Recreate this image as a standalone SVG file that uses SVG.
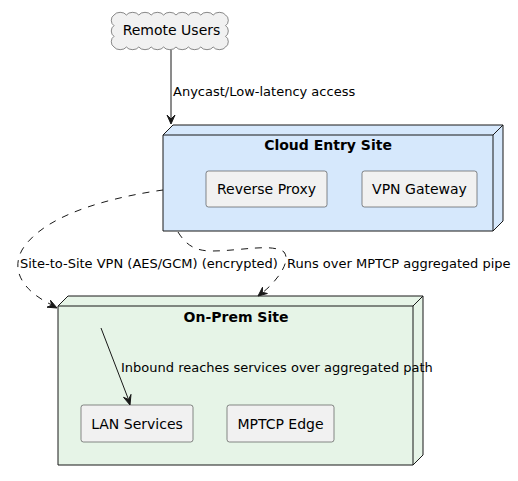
<svg xmlns="http://www.w3.org/2000/svg" width="518" height="481" viewBox="0 0 518 481">
<style>
.t{font-family:"DejaVu Sans",sans-serif;fill:#000}
.lbl{font-size:13px}
.cmp{font-size:14px;text-anchor:middle}
.ttl{font-size:14px;font-weight:bold;text-anchor:middle}
.comp rect{fill:#F1F1F1;stroke:#181818;stroke-width:0.5}
.node{stroke:#181818;stroke-width:1}
.e{fill:none;stroke:#181818;stroke-width:1}
.d{stroke-dasharray:7,7}
.ah{fill:#181818;stroke:#181818;stroke-width:1}
</style>
<rect width="518" height="481" fill="#FFFFFF"/>
<g id="remote-users">
<path d="M114,15 a7,5 0 0 1 12.4,0 a7,5 0 0 1 12.4,0 a7,5 0 0 1 12.4,0 a7,5 0 0 1 12.4,0 a7,5 0 0 1 12.4,0 a7,5 0 0 1 12.4,0 a7,5 0 0 1 12.4,0 a7,5 0 0 1 12.4,0 a7,5 0 0 1 12.4,0 a5,6 0 0 1 0,10.67 a5,6 0 0 1 0,10.67 a5,6 0 0 1 0,10.66 a7,5 0 0 1 -12.4,0 a7,5 0 0 1 -12.4,0 a7,5 0 0 1 -12.4,0 a7,5 0 0 1 -12.4,0 a7,5 0 0 1 -12.4,0 a7,5 0 0 1 -12.4,0 a7,5 0 0 1 -12.4,0 a7,5 0 0 1 -12.4,0 a7,5 0 0 1 -12.4,0 a5,6 0 0 1 0,-10.67 a5,6 0 0 1 0,-10.67 a5,6 0 0 1 0,-10.66 Z" fill="#F1F1F1" stroke="#181818" stroke-width="0.5"/>
<text class="t cmp" x="171.5" y="35">Remote Users</text>
</g>
<g id="cloud-entry-site">
<path class="node" d="M163,135 L173,125 L503,125 L503,221 L493,231 L163,231 Z" fill="#D6E8FC"/>
<path class="node" d="M163,135 L493,135 L503,125 M493,135 L493,231" fill="none"/>
<text class="t ttl" x="328" y="150">Cloud Entry Site</text>
</g>
<g id="reverse-proxy" class="comp">
<rect x="206" y="171" width="121" height="36" rx="2.5"/>
<text class="t cmp" x="266.5" y="194">Reverse Proxy</text>
</g>
<g id="vpn-gateway" class="comp">
<rect x="362" y="171" width="115" height="36" rx="2.5"/>
<text class="t cmp" x="419.5" y="194">VPN Gateway</text>
</g>
<g id="on-prem-site">
<path class="node" d="M58,306 L68,296 L423,296 L423,455 L413,465 L58,465 Z" fill="#E6F4E7"/>
<path class="node" d="M58,306 L413,306 L423,296 M413,306 L413,465" fill="none"/>
<text class="t ttl" x="236" y="322">On-Prem Site</text>
</g>
<g id="lan-services" class="comp">
<rect x="81" y="405" width="112" height="37" rx="2.5"/>
<text class="t cmp" x="137" y="428.5">LAN Services</text>
</g>
<g id="mptcp-edge" class="comp">
<rect x="227" y="405" width="107" height="37" rx="2.5"/>
<text class="t cmp" x="280.5" y="428.5">MPTCP Edge</text>
</g>
<g id="connectors">
<path class="e" d="M171,50 L171,118"/>
<polygon class="ah" points="171,124 167,115 171,119 175,115"/>
<text class="t lbl" x="173" y="96">Anycast/Low-latency access</text>

<path class="e d" d="M163,190 C120,196 45,212 22,250 C10,272 25,292 52,305"/>
<polygon class="ah" points="57,308 50.5,300.3 51.6,305.2 47,307.2"/>
<text class="t lbl" x="20" y="268">Site-to-Site VPN (AES/GCM) (encrypted)</text>

<path class="e d" d="M178,232 C186,245 195,251 212,251 C240,251 272,243 284,252 C292,262 275,283 262,293"/>
<polygon class="ah" points="258,296 262.5,287.3 262.3,292.3 267.4,293.5"/>
<text class="t lbl" x="287" y="268">Runs over MPTCP aggregated pipe</text>

<path class="e" d="M101,328 L128.5,399.5"/>
<polygon class="ah" points="130,405 123.5,397.3 128.6,399.5 131,394.4"/>
<text class="t lbl" x="121" y="372">Inbound reaches services over aggregated path</text>
</g>
</svg>
